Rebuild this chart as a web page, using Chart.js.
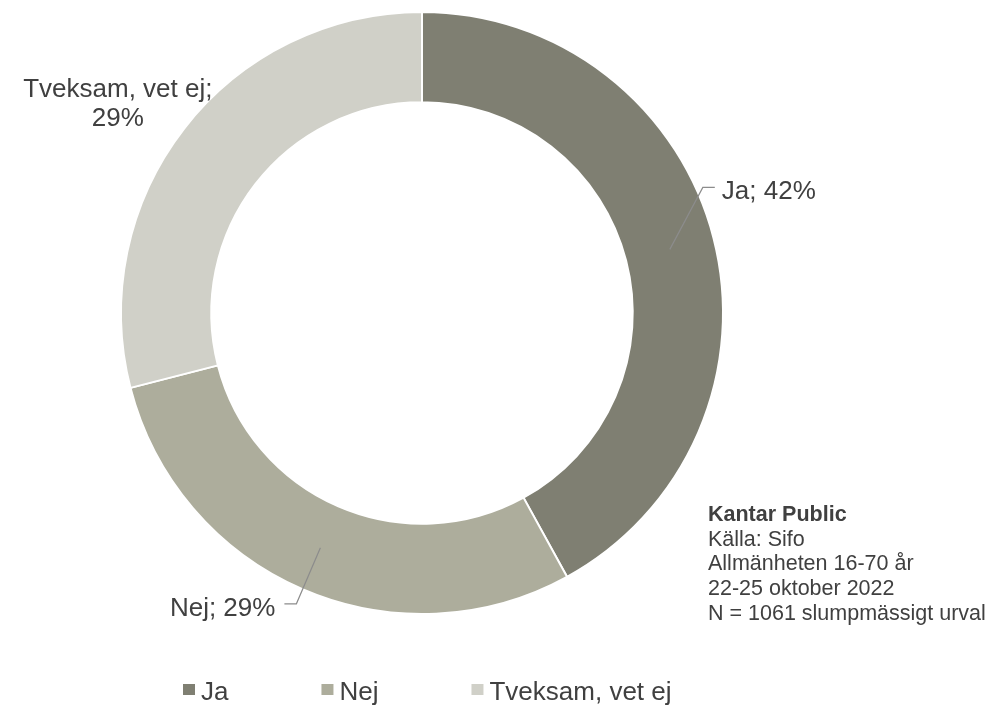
<!DOCTYPE html>
<html>
<head>
<meta charset="utf-8">
<style>
  html, body { margin: 0; padding: 0; background: #fff; }
  #wrap { width: 992px; height: 705px; position: relative; }
</style>
<script src="https://cdn.jsdelivr.net/npm/chart.js@4"></script>
</head>
<body>
<div id="wrap"><canvas id="chart" width="992" height="705"></canvas></div>
<script>
'use strict';

const categories = ['Ja', 'Nej', 'Tveksam, vet ej'];
const shares = [42, 29, 29];
const sliceLabels = ['Ja; 42%', 'Nej; 29%', 'Tveksam, vet ej;\n29%'];
const colors = ['#7f7f72', '#adad9c', '#d0d0c8'];
const noteLines = ['Kantar Public', 'Källa: Sifo', 'Allmänheten 16-70 år', '22-25 oktober 2022', 'N = 1061 slumpmässigt urval'];

const textColor = '#404040';
const family = '"Liberation Sans", Arial, sans-serif';

// where each slice label sits, relative to the middle of its ring segment
const labelLayout = [
  {elbow: [33, -62], tail: 12, align: 'left'},
  {elbow: [-24, 56], tail: -12, align: 'right'},
  {text: [-102, -59], align: 'center'}
];

const sliceLabelPlugin = {
  id: 'sliceLabels',
  afterDatasetsDraw(chart) {
    const ctx = chart.ctx;
    const arcs = chart.getDatasetMeta(0).data;
    ctx.save();
    ctx.font = '26px ' + family;
    ctx.fillStyle = textColor;
    ctx.textBaseline = 'alphabetic';
    arcs.forEach((arc, i) => {
      const mid = (arc.startAngle + arc.endAngle) / 2;
      const r = (arc.innerRadius + arc.outerRadius) / 2;
      const px = arc.x + Math.cos(mid) * r;
      const py = arc.y + Math.sin(mid) * r;
      const lay = labelLayout[i];
      const lines = sliceLabels[i].split('\n');
      if (lay.elbow) {
        const ex = px + lay.elbow[0], ey = py + lay.elbow[1];
        const tx = ex + lay.tail;
        ctx.strokeStyle = '#8c8c8c';
        ctx.lineWidth = 1.2;
        ctx.beginPath();
        ctx.moveTo(px, py);
        ctx.lineTo(ex, ey);
        ctx.lineTo(tx, ey);
        ctx.stroke();
        ctx.textAlign = lay.align;
        const gap = lay.align === 'left' ? 7 : -9;
        ctx.fillText(lines[0], tx + gap, ey + 12);
      } else {
        ctx.textAlign = 'center';
        lines.forEach((ln, k) => {
          ctx.fillText(ln, px + lay.text[0], py + lay.text[1] + k * 29);
        });
      }
    });
    ctx.restore();
  }
};

const notePlugin = {
  id: 'note',
  afterDraw(chart) {
    const ctx = chart.ctx;
    ctx.save();
    ctx.fillStyle = textColor;
    ctx.textAlign = 'left';
    noteLines.forEach((ln, k) => {
      ctx.font = (k === 0 ? 'bold ' : '') + '21.5px ' + family;
      ctx.fillText(ln, 708, 521 + k * 24.7);
    });
    ctx.restore();
  }
};

const legendPlugin = {
  id: 'bottomLegend',
  afterDraw(chart) {
    const ctx = chart.ctx;
    const ds = chart.data.datasets[0];
    ctx.save();
    ctx.font = '26px ' + family;
    ctx.textAlign = 'left';
    const box = 12, gap = 6, pad = 93;
    const widths = chart.data.labels.map(l => box + gap + ctx.measureText(l).width);
    let x = 183;
    chart.data.labels.forEach((l, i) => {
      ctx.fillStyle = ds.backgroundColor[i];
      ctx.fillRect(x, 684, box, 11);
      ctx.fillStyle = textColor;
      ctx.fillText(l, x + box + gap, 700);
      x += widths[i] + pad;
    });
    ctx.restore();
  }
};

new Chart(document.getElementById('chart').getContext('2d'), {
  type: 'doughnut',
  data: {
    labels: categories,
    datasets: [{
      data: shares,
      backgroundColor: colors,
      borderColor: '#ffffff',
      borderWidth: 2
    }]
  },
  options: {
    responsive: false,
    animation: false,
    cutout: '70%',
    layout: {padding: {left: 120, right: 268, top: 11, bottom: 90}},
    plugins: {
      legend: {display: false},
      tooltip: {enabled: false}
    }
  },
  plugins: [sliceLabelPlugin, notePlugin, legendPlugin]
});
</script>
</body>
</html>
